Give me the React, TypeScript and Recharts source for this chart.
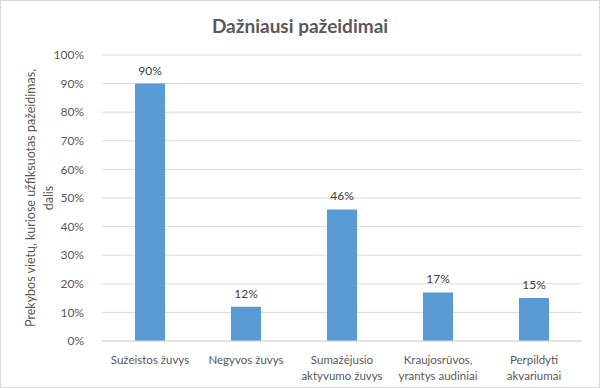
import React from "react";
import { BarChart, Bar, XAxis, YAxis, CartesianGrid, LabelList } from "recharts";

const categories = [
  "Sužeistos žuvys",
  "Negyvos žuvys",
  "Sumažėjusio aktyvumo žuvys",
  "Kraujosrūvos, yrantys audiniai",
  "Perpildyti akvariumai",
];
const categoryLines = [
  ["Sužeistos žuvys"],
  ["Negyvos žuvys"],
  ["Sumažėjusio", "aktyvumo žuvys"],
  ["Kraujosrūvos,", "yrantys audiniai"],
  ["Perpildyti", "akvariumai"],
];
const values = [0.9, 0.12, 0.46, 0.17, 0.15];
const yTicks = [0, 0.1, 0.2, 0.3, 0.4, 0.5, 0.6, 0.7, 0.8, 0.9, 1.0];
const title = "Dažniausi pažeidimai";
const yLabelLines = ["Prekybos vietų, kuriose užfiksuotas pažeidimas,", "dalis"];

const data = categories.map((c, i) => ({ name: c, idx: i, value: values[i] }));

const FONT = "Lato, 'Noto Sans', sans-serif";
const GREY = "#595959";

const pct = (v: number) => `${Math.round(v * 100)}%`;

const XTick = (props: any) => {
  const { x, y, payload } = props;
  const lines = categoryLines[payload.index] || [String(payload.value)];
  return (
    <text x={x} y={y} textAnchor="middle" fill={GREY} fontSize={11.5} fontFamily={FONT}>
      {lines.map((l, i) => (
        <tspan key={i} x={x} dy={i === 0 ? 15 : 16}>
          {l}
        </tspan>
      ))}
    </text>
  );
};

const YLabel = (props: any) => {
  const vb = props.viewBox || {};
  const cy = vb.y + vb.height / 2;
  const x1 = 30;
  const x2 = 48;
  return (
    <g>
      <text
        x={x1}
        y={cy}
        transform={`rotate(-90 ${x1} ${cy})`}
        textAnchor="middle"
        dominantBaseline="central"
        fill={GREY}
        fontSize={12.5}
        fontFamily={FONT}
      >
        {yLabelLines[0]}
      </text>
      <text
        x={x2}
        y={cy}
        transform={`rotate(-90 ${x2} ${cy})`}
        textAnchor="middle"
        dominantBaseline="central"
        fill={GREY}
        fontSize={12.5}
        fontFamily={FONT}
      >
        {yLabelLines[1]}
      </text>
    </g>
  );
};

export default function App() {
  return (
    <div style={{ position: "fixed", left: 0, top: 0, width: 600, height: 388, background: "#fff" }}>
      <div
        style={{
          position: "absolute",
          left: 0,
          top: 0,
          width: 600,
          height: 388,
          boxSizing: "border-box",
          border: "1px solid #d9d9d9",
        }}
      />
      <div
        style={{
          position: "absolute",
          left: 0,
          top: 14,
          width: 600,
          textAlign: "center",
          fontFamily: FONT,
          fontWeight: 700,
          fontSize: 19,
          color: GREY,
        }}
      >
        {title}
      </div>
      <div style={{ position: "absolute", left: 0, top: 0 }}>
        <BarChart
          width={600}
          height={388}
          data={data}
          margin={{ top: 55, right: 18, bottom: 0, left: 0 }}
        >
          <CartesianGrid vertical={false} stroke="#d9d9d9" />
          <XAxis
            dataKey="name"
            interval={0}
            tick={<XTick />}
            tickLine={false}
            axisLine={{ stroke: "#d9d9d9" }}
            height={47}
          />
          <YAxis
            width={102}
            domain={[0, 1]}
            ticks={yTicks}
            tickFormatter={pct}
            tick={{ fill: GREY, fontSize: 12, fontFamily: FONT }}
            tickLine={false}
            axisLine={false}
            tickMargin={12}
            label={<YLabel />}
          />
          <Bar dataKey="value" fill="#5b9bd5" barSize={30} isAnimationActive={false}>
            <LabelList
              dataKey="value"
              position="top"
              offset={9}
              formatter={(v: any) => pct(Number(v))}
              fill="#404040"
              fontSize={12}
              fontFamily={FONT}
            />
          </Bar>
        </BarChart>
      </div>
    </div>
  );
}
